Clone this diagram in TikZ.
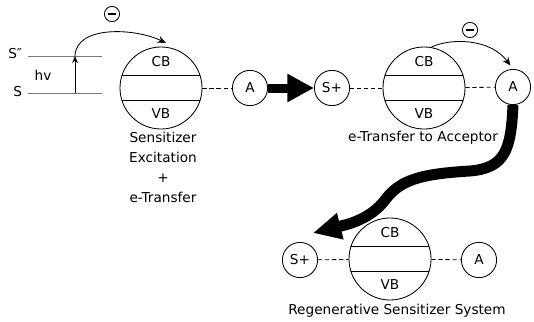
\documentclass[tikz,border=0pt]{standalone}
\usepackage{fontspec}
\setmainfont{DejaVu Sans}
\usetikzlibrary{arrows.meta}

\begin{document}
\begin{tikzpicture}[x=0.025cm,y=-0.025cm,
    font=\fontsize{9.7}{11.6}\selectfont,
    bandgap/.style={shape=circle,draw,line width=0.6pt,minimum size=2.05cm,inner sep=0pt},
    species/.style={shape=circle,draw,line width=0.6pt,minimum size=0.88cm,inner sep=0pt},
    charge/.style={shape=circle,draw,line width=0.6pt,minimum size=0.38cm,inner sep=0pt},
    link/.style={densely dashed,line width=0.6pt},
    bigarrow/.style={line width=6.4pt,-{Triangle[length=19pt,width=19pt]}}]
    \useasboundingbox (0,0) rectangle (534,322);

    % sensitizer levels
    \definecolor{level_gray}{RGB}{120,120,120}
    \coordinate (Sexc) at (75,56);
    \coordinate (Sgnd) at (75,93);
    \draw[level_gray,line width=0.6pt] (28,56) to (102,56);
    \draw[level_gray,line width=0.6pt] (28,93) to (102,93);
    \node[anchor=east] (lblexc) at (27,54) {S″};
    \node[anchor=east] (lblgnd) at (27,92) {S};
    \node (lblhv) at (43,75) {hv};

    % stage 1
    \node[bandgap] (c1) at (161,88) {};
    \draw[line width=0.6pt] (c1.162) to (c1.18);
    \draw[line width=0.6pt] (c1.-162) to (c1.-18);
    \node (cb1) at (161,62) {CB};
    \node (vb1) at (161,114) {VB};
    \node[species] (A1) at (250,88) {A};
    \draw[link] (c1) to (A1);
    \node[charge] (e1) at (112,14) {\rule{5.5pt}{0.9pt}};
    \coordinate (inj1) at (166,43);
    \draw[line width=0.6pt,-{Stealth[length=5pt,width=4pt]}] (Sgnd) to (Sexc);
    \draw[line width=0.6pt,-{Stealth[length=6pt,width=5pt]}] (Sexc) .. controls (76,25) and (135,28) .. (inj1);
    \node[align=center,font=\fontsize{9.7}{14.2}\selectfont] (txt1) at (163,167) {Sensitizer\\Excitation\\+\\e-Transfer};

    % stage 2
    \node[species] (Sp2) at (332,88) {S+};
    \node[bandgap] (c2) at (424,88) {};
    \draw[line width=0.6pt] (c2.162) to (c2.18);
    \draw[line width=0.6pt] (c2.-162) to (c2.-18);
    \node (cb2) at (424,62) {CB};
    \node (vb2) at (424,114) {VB};
    \node[species] (A2) at (513,87) {A};
    \draw[link] (Sp2) to (c2);
    \draw[link] (c2) to (A2);
    \node[charge] (e2) at (470,30) {\rule{5.5pt}{0.9pt}};
    \draw[line width=0.6pt,-{Stealth[length=6pt,width=5pt]},shorten >=3pt] (c2.80) .. controls (450,38) and (490,38) .. (A2.north);
    \node (txt2) at (423,138) {e-Transfer to Acceptor};

    \draw[bigarrow] (A1) to (Sp2);

    % stage 3
    \node[bandgap] (c3) at (390,259) {};
    \draw[line width=0.6pt] (c3.162) to (c3.18);
    \draw[line width=0.6pt] (c3.-162) to (c3.-18);
    \node (cb3) at (390,233) {CB};
    \node (vb3) at (390,285) {VB};
    \node[species] (Sp3) at (300,260) {S+};
    \node[species] (A3) at (479,260) {A};
    \draw[link] (Sp3) to (c3);
    \draw[link] (c3) to (A3);
    \node (txt3) at (397,311) {Regenerative Sensitizer System};

    \coordinate (ret) at (313,233);
    \draw[line width=7.8pt,-{Triangle[length=20pt,width=18pt]}] (A2.south) .. controls (511,150) and (505,168) .. (470,171) .. controls (420,174) and (400,180) .. (385,200) .. controls (370,220) and (345,225) .. (ret);

\end{tikzpicture}
\end{document}
